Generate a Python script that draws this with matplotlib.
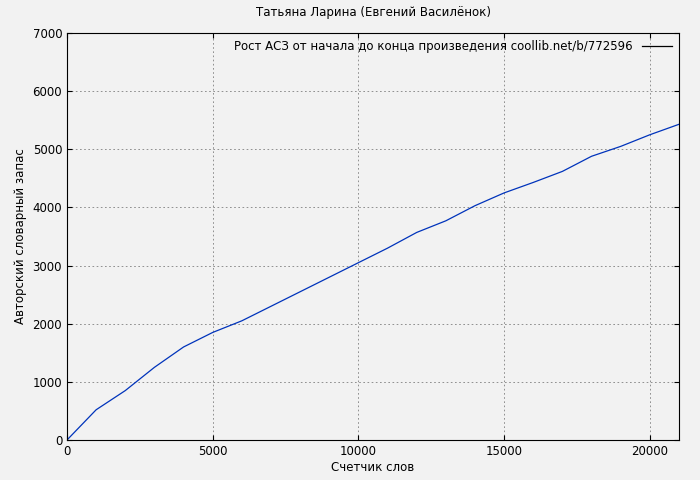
import matplotlib
matplotlib.use("Agg")
import matplotlib.pyplot as plt

words = [0, 1000, 2000, 3000, 4000, 5000, 6000, 7000, 8000, 9000, 10000,
         11000, 12000, 13000, 14000, 15000, 16000, 17000, 18000, 19000, 20000, 21000]
vocab = [0, 520, 850, 1250, 1600, 1850, 2050, 2300, 2550, 2800, 3050,
         3300, 3570, 3770, 4030, 4250, 4430, 4620, 4880, 5050, 5250, 5430]

fig = plt.figure(figsize=(7, 4.8), dpi=100, facecolor="#f2f2f2")
ax = fig.add_axes([67/700, 40/480, 612/700, 407/480])
ax.set_facecolor("#f2f2f2")
ax.plot(words, vocab, color="#0033bb", lw=0.9,
        label="Рост АСЗ от начала до конца произведения coollib.net/b/772596")
ax.set_xlim(0, 21000)
ax.set_ylim(0, 7000)
ax.set_xticks(range(0, 21000, 5000))
ax.set_yticks(range(0, 7001, 1000))
ax.grid(True, color="gray", ls=(0, (2, 3)), lw=0.6)
ax.tick_params(direction="in", top=True, right=True, labelsize=8.5)
ax.set_xlabel("Счетчик слов", fontsize=8.5, labelpad=2)
ax.set_ylabel("Авторский словарный запас", fontsize=8.5)
ax.set_title("Татьяна Ларина (Евгений Василёнок)", fontsize=8.5, pad=12)
leg = ax.legend(loc="upper right", frameon=False, fontsize=8.5, markerfirst=False,
                handlelength=2.5, borderaxespad=0.2)
leg.get_lines()[0].set_color("black")
fig.savefig("out.png", facecolor="#f2f2f2")
